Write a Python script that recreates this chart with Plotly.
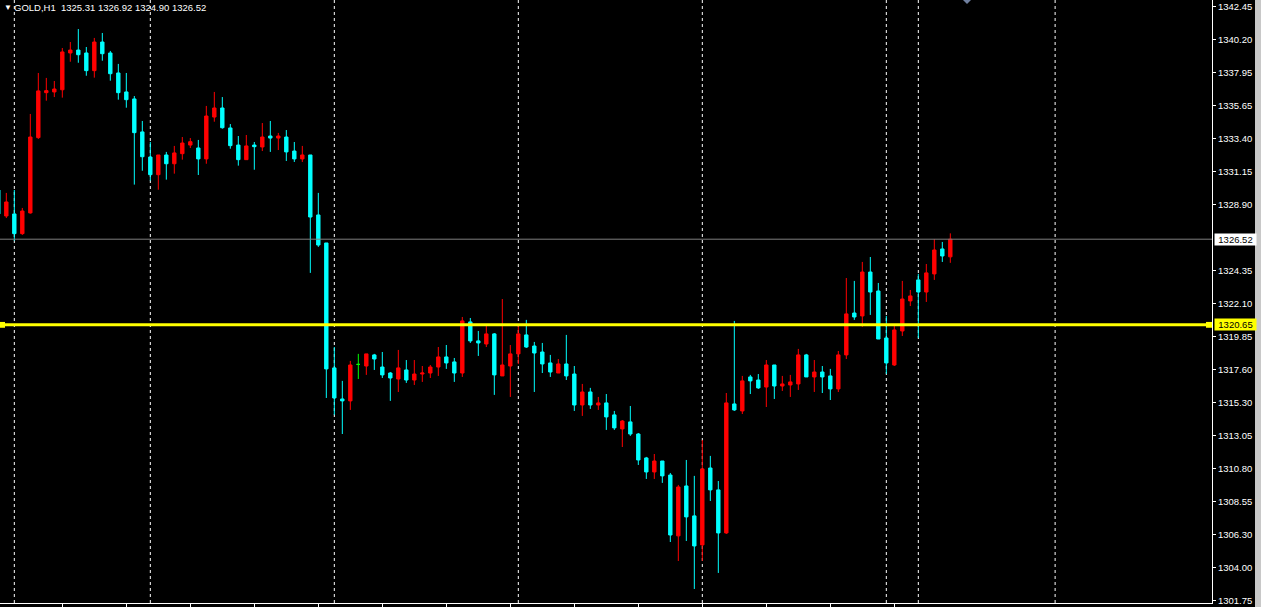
import plotly.graph_objects as go

symbol = "GOLD,H1"

opens = [1329.89, 1328.11, 1328.25, 1326.90, 1328.32, 1333.48, 1336.56, 1336.61, 1336.76, 1339.28,
         1339.48, 1339.28, 1338.07, 1340.03, 1339.28, 1337.91, 1336.61, 1336.13, 1333.87, 1332.15,
         1330.94, 1332.29, 1331.69, 1332.38, 1332.97, 1332.77, 1332.02, 1334.89, 1335.51, 1334.14,
         1332.97, 1331.97, 1332.97, 1332.84, 1333.59, 1333.45, 1333.52, 1332.56, 1332.02, 1332.29,
         1328.18, 1326.26, 1317.70, 1315.57, 1315.44, 1317.94, 1317.83, 1318.59, 1317.76, 1317.35,
         1316.94, 1317.56, 1316.87, 1317.28, 1317.35, 1317.76, 1318.45, 1318.11, 1317.35, 1320.85,
         1319.55, 1319.34, 1320.03, 1317.15, 1317.83, 1318.66, 1319.96, 1319.20, 1318.79, 1318.04,
         1317.35, 1317.97, 1317.28, 1315.16, 1316.05, 1315.16, 1315.30, 1314.48, 1313.52, 1314.00,
         1313.17, 1311.53, 1310.57, 1311.32, 1310.36, 1306.19, 1309.61, 1307.56, 1305.57, 1310.84,
         1309.34, 1306.39, 1315.23, 1314.75, 1317.08, 1316.87, 1316.39, 1317.90, 1316.46, 1316.53,
         1316.60, 1318.59, 1317.08, 1317.42, 1317.15, 1316.26, 1318.59, 1321.46, 1321.26, 1324.27,
         1322.97, 1319.75, 1317.90, 1320.23, 1322.29, 1323.73, 1322.90, 1324.14, 1325.85, 1325.31]

highs = [1330.17, 1329.69, 1329.89, 1328.66, 1335.10, 1337.91, 1337.57, 1337.36, 1339.62, 1340.03,
         1340.92, 1339.69, 1340.31, 1340.65, 1339.42, 1338.53, 1337.91, 1336.33, 1334.62, 1333.18,
         1332.29, 1332.50, 1332.91, 1333.52, 1333.45, 1333.32, 1335.65, 1336.61, 1336.26, 1334.41,
         1333.59, 1333.66, 1333.18, 1334.48, 1334.62, 1333.80, 1334.00, 1333.18, 1332.91, 1332.29,
         1329.69, 1326.26, 1319.13, 1316.81, 1318.18, 1318.66, 1318.66, 1318.66, 1318.79, 1317.42,
         1318.93, 1318.24, 1318.24, 1317.83, 1317.90, 1319.13, 1319.27, 1318.38, 1321.19, 1321.12,
         1320.23, 1320.57, 1320.09, 1322.42, 1319.27, 1320.57, 1320.99, 1319.48, 1319.41, 1318.59,
         1318.31, 1319.96, 1317.83, 1316.60, 1316.33, 1315.71, 1315.91, 1314.75, 1314.13, 1315.09,
         1313.24, 1311.60, 1311.80, 1311.32, 1310.50, 1309.68, 1311.39, 1310.30, 1312.76, 1311.67,
         1309.95, 1315.98, 1320.92, 1317.15, 1317.22, 1317.28, 1318.24, 1317.90, 1317.15, 1317.22,
         1319.00, 1318.66, 1318.24, 1317.83, 1317.63, 1318.86, 1323.86, 1323.66, 1324.96, 1325.30,
         1323.52, 1321.26, 1320.57, 1323.66, 1323.04, 1324.14, 1324.82, 1326.53, 1326.33, 1326.92]

lows = [1327.97, 1327.97, 1326.42, 1326.81, 1328.27, 1333.39, 1336.01, 1336.26, 1336.22, 1338.68,
        1338.61, 1337.72, 1337.59, 1338.75, 1337.38, 1336.08, 1335.53, 1330.26, 1331.21, 1330.53,
        1329.91, 1330.60, 1331.01, 1331.97, 1332.77, 1330.92, 1331.69, 1334.57, 1334.09, 1332.72,
        1331.56, 1331.97, 1331.28, 1332.56, 1332.50, 1332.63, 1331.88, 1331.81, 1331.81, 1324.21,
        1325.99, 1315.64, 1314.48, 1313.17, 1314.82, 1316.94, 1317.22, 1317.56, 1317.01, 1315.44,
        1316.05, 1316.67, 1316.53, 1316.74, 1317.01, 1317.15, 1317.63, 1316.74, 1317.08, 1319.41,
        1318.52, 1319.13, 1315.85, 1317.15, 1315.71, 1317.97, 1319.07, 1316.05, 1317.35, 1317.08,
        1317.35, 1316.87, 1314.75, 1314.41, 1314.89, 1314.82, 1313.45, 1313.45, 1312.28, 1313.04,
        1311.05, 1310.09, 1310.09, 1309.82, 1305.77, 1304.47, 1305.84, 1302.55, 1304.47, 1308.58,
        1303.65, 1306.32, 1314.75, 1314.54, 1315.91, 1316.26, 1315.02, 1315.57, 1316.12, 1315.71,
        1316.19, 1317.08, 1316.05, 1315.98, 1315.50, 1316.05, 1318.31, 1320.99, 1320.51, 1321.33,
        1319.68, 1317.28, 1317.83, 1319.89, 1321.94, 1319.75, 1322.22, 1323.73, 1324.96, 1324.90]

closes = [1328.25, 1329.07, 1326.90, 1328.45, 1333.52, 1336.68, 1336.70, 1336.81, 1339.35, 1339.48,
          1339.16, 1338.07, 1340.03, 1339.23, 1337.86, 1336.56, 1336.08, 1333.82, 1332.17, 1330.94,
          1332.29, 1331.69, 1332.43, 1333.11, 1333.20, 1332.02, 1334.96, 1335.51, 1334.16, 1332.93,
          1331.97, 1332.91, 1332.86, 1333.52, 1333.45, 1333.59, 1332.50, 1332.02, 1332.29, 1328.04,
          1326.12, 1317.63, 1315.64, 1315.44, 1317.90, 1317.94, 1318.66, 1318.31, 1317.22, 1317.01,
          1317.70, 1316.87, 1317.28, 1317.35, 1317.76, 1318.45, 1318.04, 1317.35, 1320.92, 1319.55,
          1319.41, 1320.03, 1317.22, 1317.90, 1318.66, 1320.03, 1319.13, 1318.72, 1317.97, 1317.42,
          1317.97, 1317.15, 1315.16, 1316.05, 1315.16, 1315.30, 1314.34, 1313.59, 1314.06, 1313.17,
          1311.39, 1310.57, 1311.32, 1310.30, 1306.25, 1309.54, 1307.49, 1305.50, 1310.78, 1309.34,
          1306.39, 1315.30, 1314.82, 1316.81, 1316.81, 1316.33, 1317.90, 1316.46, 1316.60, 1316.74,
          1318.59, 1317.08, 1317.42, 1317.08, 1316.26, 1318.59, 1321.40, 1321.19, 1324.27, 1322.90,
          1319.68, 1318.04, 1320.30, 1322.42, 1322.63, 1322.90, 1324.21, 1325.78, 1325.37, 1326.52]

level_price = 1320.65

price_ticks = [1342.45, 1340.20, 1337.95, 1335.65, 1333.40, 1331.15, 1328.90, 1324.35, 1322.10,
               1319.85, 1317.60, 1315.30, 1313.05, 1310.80, 1308.55, 1306.30, 1304.00, 1301.75]
price_tick_text = [f"{v:.2f}" for v in price_ticks]

# bar index positions (first bar is partially cut at the left edge)
bars = list(range(-1, len(opens) - 1))
separators = [1, 18, 41, 64, 87, 110, 114, 131.1]
time_ticks = list(range(7, 112, 8))

FONT = "Liberation Sans"
FS = 9.5

doji = [i for i in range(len(opens)) if opens[i] == closes[i]]
normal = [i for i in range(len(opens)) if i not in doji]

fig = go.Figure()
fig.add_trace(go.Candlestick(
    x=[bars[i] for i in normal],
    open=[opens[i] for i in normal], high=[highs[i] for i in normal],
    low=[lows[i] for i in normal], close=[closes[i] for i in normal],
    increasing=dict(line=dict(color="#FF0000", width=1), fillcolor="#FF0000"),
    decreasing=dict(line=dict(color="#00FFFF", width=1), fillcolor="#00FFFF"),
    whiskerwidth=0, hoverinfo="skip", showlegend=False,
))
fig.add_trace(go.Candlestick(
    x=[bars[i] for i in doji],
    open=[opens[i] for i in doji], high=[highs[i] for i in doji],
    low=[lows[i] for i in doji], close=[closes[i] for i in doji],
    increasing=dict(line=dict(color="#00FF00", width=1), fillcolor="#00FF00"),
    decreasing=dict(line=dict(color="#00FF00", width=1), fillcolor="#00FF00"),
    whiskerwidth=0, hoverinfo="skip", showlegend=False,
))

shapes = []
for s in separators:
    shapes.append(dict(type="line", xref="x", yref="paper", x0=s, x1=s, y0=0, y1=1,
                       line=dict(color="#FFFFFF", width=1, dash="3px,3px"), layer="below"))
# current bid line
shapes.append(dict(type="line", xref="paper", yref="y", x0=0, x1=1, y0=closes[-1], y1=closes[-1],
                   line=dict(color="#7f7f7f", width=1), layer="above"))
# horizontal level
shapes.append(dict(type="line", xref="paper", yref="y", x0=0, x1=1, y0=level_price, y1=level_price,
                   line=dict(color="#FFFF00", width=3), layer="above"))
for xa, xb in [(0, 5 / 1212), (1206 / 1212, 1)]:
    shapes.append(dict(type="rect", xref="paper", yref="y", x0=xa, x1=xb,
                       y0=level_price - 0.2, y1=level_price + 0.2,
                       line=dict(width=0), fillcolor="#FFFF00", layer="above"))
# chart shift marker
shapes.append(dict(type="path", xref="paper", yref="paper",
                   path=f"M {963/1212},1 L {971/1212},1 L {967/1212},{1-4/603} Z",
                   fillcolor="#7080a0", line=dict(width=0)))
# scrollbar strip at the right edge
shapes.append(dict(type="rect", xref="paper", yref="paper", x0=1255 / 1212, x1=1262 / 1212,
                   y0=-5 / 603, y1=1.01, fillcolor="#c8c8c8", line=dict(width=0)))

annotations = [
    dict(text="▼", xref="paper", yref="paper", x=0, y=1, xanchor="left", yanchor="top",
         xshift=2, yshift=-1, showarrow=False, font=dict(family=FONT, size=8, color="#FFFFFF")),
    dict(text=f"{symbol}  {opens[-1]:.2f} {highs[-1]:.2f} {lows[-1]:.2f} {closes[-1]:.2f}",
         xref="paper", yref="paper", x=0, y=1, xanchor="left", yanchor="top",
         xshift=12, yshift=0, showarrow=False, font=dict(family=FONT, size=FS, color="#FFFFFF")),
    dict(text=f"{closes[-1]:.2f}", xref="paper", yref="y", x=1, y=closes[-1], xanchor="left",
         yanchor="middle", xshift=2, showarrow=False, bgcolor="#FFFFFF", width=41, height=11,
         borderpad=0, font=dict(family=FONT, size=FS, color="#000000")),
    dict(text=f"{level_price:.2f}", xref="paper", yref="y", x=1, y=level_price, xanchor="left",
         yanchor="middle", xshift=2, showarrow=False, bgcolor="#FFFF00", width=41, height=11,
         borderpad=0, font=dict(family=FONT, size=FS, color="#000000")),
]

fig.update_layout(
    width=1261, height=607,
    margin=dict(l=0, r=49, t=0, b=4),
    paper_bgcolor="#000000", plot_bgcolor="#000000",
    showlegend=False, boxgap=0.4,
    shapes=shapes, annotations=annotations,
    xaxis=dict(range=[-0.79, 150.71], showgrid=False, zeroline=False, showline=True,
               linecolor="#FFFFFF", linewidth=1, ticks="outside", ticklen=4, tickcolor="#FFFFFF",
               tickvals=time_ticks, showticklabels=False, rangeslider=dict(visible=False),
               fixedrange=True),
    yaxis=dict(range=[1301.59, 1342.91], side="right", showgrid=False, zeroline=False,
               showline=True, linecolor="#FFFFFF", linewidth=1, ticks="outside", ticklen=3,
               tickcolor="#FFFFFF", tickvals=price_ticks, ticktext=price_tick_text,
               tickfont=dict(family=FONT, size=FS, color="#FFFFFF"), fixedrange=True),
)

fig.write_html("out.html", config=dict(displayModeBar=False),
               post_script="document.body.style.margin='0';document.body.style.overflow='hidden';")
